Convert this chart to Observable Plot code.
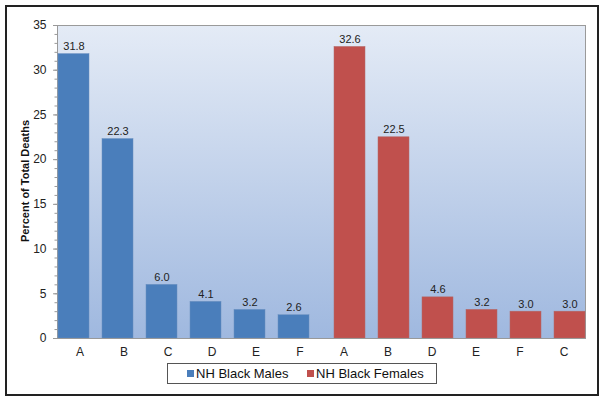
<!DOCTYPE html>
<html>
<head>
<meta charset="utf-8">
<script src="https://cdn.jsdelivr.net/npm/d3@7"></script>
<script src="https://cdn.jsdelivr.net/npm/@observablehq/plot@0.6"></script>
<style>
  html, body { margin: 0; padding: 0; background: #fff; }
  #wrap { position: relative; width: 604px; height: 402px; font-family: "Liberation Sans", Arial, sans-serif; }
  #outer { position: absolute; left: 5px; top: 5px; width: 590px; height: 387px; border: 2px solid #222; }
  #chart { position: absolute; left: 0; top: 0; }
  #ylab { position: absolute; left: 25px; top: 181px; transform: translate(-50%, -50%) rotate(-90deg); font-weight: bold; font-size: 11px; white-space: nowrap; color: #111; }
  #legend { position: absolute; left: 167px; top: 363px; width: 268px; height: 19px; border: 1px solid #555; background: #fff; font-size: 13px; color: #111; }
  .item { position: absolute; top: 2px; line-height: 15px; white-space: nowrap; }
  .sw { display: inline-block; width: 7px; height: 7px; margin-right: 2px; vertical-align: 1px; }
</style>
</head>
<body>
<div id="wrap">
  <div id="outer"></div>
  <div id="chart"></div>
  <div id="ylab">Percent of Total Deaths</div>
  <div id="legend"></div>
</div>
<script>
const maleCats = ["A", "B", "C", "D", "E", "F"];
const maleVals = [31.8, 22.3, 6.0, 4.1, 3.2, 2.6];
const femaleCats = ["A", "B", "D", "E", "F", "C"];
const femaleVals = [32.6, 22.5, 4.6, 3.2, 3.0, 3.0];
const seriesNames = ["NH Black Males", "NH Black Females"];
const seriesColors = ["#4a7ebb", "#c0504d"];
const yMajorTicks = [0, 5, 10, 15, 20, 25, 30, 35];

const males = maleCats.map((c, i) => ({key: "m" + i, cat: c, value: maleVals[i]}));
const females = femaleCats.map((c, i) => ({key: "f" + i, cat: c, value: femaleVals[i]}));
const all = males.concat(females);
const catOf = new Map(all.map(d => [d.key, d.cat]));
const minorTicks = d3.range(0, 36, 1);

const plot = Plot.plot({
  width: 604,
  height: 360,
  marginLeft: 57,
  marginRight: 19,
  marginTop: 25,
  marginBottom: 22,
  style: {background: "transparent", fontFamily: "'Liberation Sans', Arial, sans-serif", color: "#222"},
  x: {type: "band", domain: all.map(d => d.key), paddingInner: 0.3, paddingOuter: 0.15, axis: null},
  y: {domain: [0, 35], axis: null},
  marks: [
    Plot.frame({fill: "url(#bgGrad)", stroke: "#9a9a9a"}),
    Plot.axisY(minorTicks, {tickSize: 2.5, tickFormat: () => "", stroke: "#999", label: null}),
    Plot.axisY(yMajorTicks, {tickSize: 4, tickPadding: 7, fontSize: 12, stroke: "#999", fill: "#222", label: null}),
    Plot.barY(males, {x: "key", y: "value", fill: seriesColors[0], stroke: "#6a8fbf", strokeWidth: 0.5, dx: -6}),
    Plot.barY(females, {x: "key", y: "value", fill: seriesColors[1], stroke: "#b06a68", strokeWidth: 0.5, dx: 6}),
    Plot.text(males, {x: "key", y: "value", text: d => d.value.toFixed(1), dx: -6, dy: -4, lineAnchor: "bottom", fontSize: 11, fill: "#222"}),
    Plot.text(females, {x: "key", y: "value", text: d => d.value.toFixed(1), dx: 6, dy: -4, lineAnchor: "bottom", fontSize: 11, fill: "#222"}),
    Plot.axisX({tickSize: 0, tickPadding: 9, fontSize: 12, fill: "#222", tickFormat: k => catOf.get(k), label: null}),
    Plot.ruleY([0], {stroke: "#999"})
  ]
});

const svg = d3.select(plot);
const defs = svg.insert("defs", ":first-child");
const g = defs.append("linearGradient").attr("id", "bgGrad").attr("x1", 0).attr("y1", 0).attr("x2", 0).attr("y2", 1);
g.append("stop").attr("offset", "0%").attr("stop-color", "#e4ebf6");
g.append("stop").attr("offset", "100%").attr("stop-color", "#9fb8df");
document.getElementById("chart").appendChild(plot);

const legend = document.getElementById("legend");
const lefts = [19, 139];
seriesNames.forEach((name, i) => {
  const it = document.createElement("div");
  it.className = "item";
  it.style.left = lefts[i] + "px";
  const sw = document.createElement("span");
  sw.className = "sw";
  sw.style.background = seriesColors[i];
  it.appendChild(sw);
  it.appendChild(document.createTextNode(name));
  legend.appendChild(it);
});
</script>
</body>
</html>
